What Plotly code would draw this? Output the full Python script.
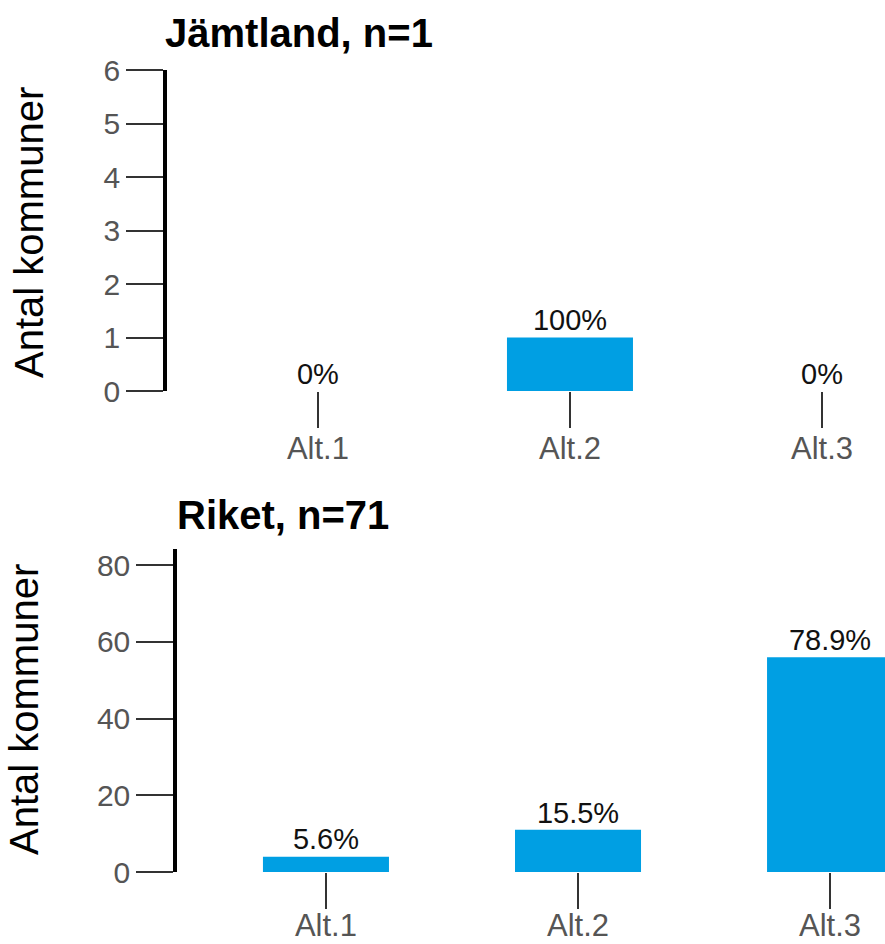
import plotly.graph_objects as go

categories = ["Alt.1", "Alt.2", "Alt.3"]
jamtland_counts = [0, 1, 0]
jamtland_n = 1
riket_counts = [4, 11, 56]
riket_n = 71
jamtland_yticks = [0, 1, 2, 3, 4, 5, 6]
riket_yticks = [0, 20, 40, 60, 80]


def pct_labels(counts, n):
    out = []
    for c in counts:
        s = f"{c / n * 100:.1f}"
        if s.endswith(".0"):
            s = s[:-2]
        out.append(s + "%")
    return out


W, H = 885, 944
FONT = "Liberation Sans, Arial, sans-serif"
BAR = "#009fe3"
TICKC = "#333333"
LABC = "#555555"

fig = go.Figure()

panels = [
    dict(counts=jamtland_counts, n=jamtland_n, xa="x", ya="y"),
    dict(counts=riket_counts, n=riket_n, xa="x2", ya="y2"),
]
for p in panels:
    fig.add_trace(go.Bar(x=categories, y=p["counts"], width=0.5,
                         marker=dict(color=BAR, line=dict(width=0)),
                         xaxis=p["xa"], yaxis=p["ya"], hoverinfo="skip",
                         showlegend=False))
    fig.add_trace(go.Scatter(x=categories, y=p["counts"], mode="text",
                             text=pct_labels(p["counts"], p["n"]),
                             textposition="top center",
                             textfont=dict(size=29, color="#111111", family=FONT),
                             xaxis=p["xa"], yaxis=p["ya"], hoverinfo="skip",
                             showlegend=False, cliponaxis=False))


def xax(domain, rng, anchor, standoff):
    return dict(domain=domain, range=rng, anchor=anchor, showline=False,
                showgrid=False, zeroline=False, ticks="outside", ticklen=36,
                tickwidth=2, tickcolor=TICKC, type="category",
                ticklabelstandoff=standoff,
                tickfont=dict(size=31, color=LABC, family=FONT), fixedrange=True)


def yax(domain, rng, anchor, tv):
    return dict(domain=domain, range=rng, anchor=anchor, showline=True,
                linewidth=3.5, linecolor="black", showgrid=False,
                zeroline=False, ticks="outside", ticklen=37, tickwidth=2,
                tickcolor=TICKC, tickvals=tv,
                tickfont=dict(size=30, color=LABC, family=FONT), fixedrange=True)


fig.update_layout(
    width=W, height=H,
    margin=dict(l=0, r=0, t=0, b=0, autoexpand=False),
    paper_bgcolor="white", plot_bgcolor="white",
    font=dict(family=FONT),
    xaxis=xax([167 / W, 1.0], [-0.599, 2.25], "y", -6),
    yaxis=yax([1 - 391 / H, 1 - 70 / H], [0, 6], "x", jamtland_yticks),
    xaxis2=xax([177 / W, 1.0], [-0.591, 2.218], "y2", -10),
    yaxis2=yax([1 - 872 / H, 1 - 549 / H], [0, 84.2], "x2", riket_yticks),
    bargap=0.5,
)

fig.add_annotation(text=f"<b>Jämtland, n={jamtland_n}</b>", xref="paper", yref="paper",
                   x=163 / W, y=1 - 33 / H, xanchor="left", yanchor="middle",
                   showarrow=False, font=dict(size=40, color="black", family=FONT))
fig.add_annotation(text=f"<b>Riket, n={riket_n}</b>", xref="paper", yref="paper",
                   x=175 / W, y=1 - 515 / H, xanchor="left", yanchor="middle",
                   showarrow=False, font=dict(size=40, color="black", family=FONT))
fig.add_annotation(text="Antal kommuner", xref="paper", yref="paper",
                   x=29 / W, y=1 - 233 / H, xanchor="center", yanchor="middle",
                   textangle=-90, showarrow=False,
                   font=dict(size=40, color="black", family=FONT))
fig.add_annotation(text="Antal kommuner", xref="paper", yref="paper",
                   x=24 / W, y=1 - 710 / H, xanchor="center", yanchor="middle",
                   textangle=-90, showarrow=False,
                   font=dict(size=40, color="black", family=FONT))

fig.write_html(
    "out.html",
    config={"displayModeBar": False},
    post_script="document.body.style.margin='0';document.body.style.overflow='hidden';",
)
